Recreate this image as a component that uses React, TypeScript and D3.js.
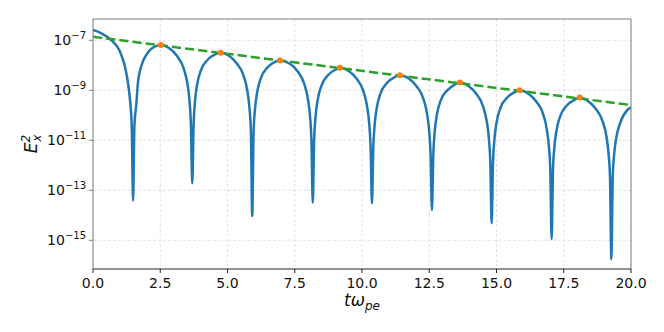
import React, { useRef, useEffect } from "react";
import * as d3 from "d3";

// time samples (t * omega_pe) and E_x^2
const tValues = [
  0, 0.31, 0.68, 0.99, 1.18, 1.3, 1.39, 1.44, 1.49, 1.54, 1.61, 1.67, 1.8, 2.04, 2.29, 2.52,
  2.84, 3.11, 3.37, 3.51, 3.59, 3.64, 3.69, 3.74, 3.79, 3.87, 4.01, 4.27, 4.54, 4.75,
  5.07, 5.34, 5.6, 5.74, 5.82, 5.87, 5.92, 5.97, 6.02, 6.1, 6.24, 6.5, 6.77, 6.95,
  7.32, 7.59, 7.85, 7.99, 8.07, 8.12, 8.17, 8.22, 8.27, 8.35, 8.49, 8.75, 9.02, 9.18,
  9.52, 9.79, 10.05, 10.19, 10.27, 10.32, 10.37, 10.42, 10.47, 10.55, 10.69, 10.95, 11.22, 11.41,
  11.75, 12.02, 12.28, 12.42, 12.5, 12.55, 12.6, 12.65, 12.7, 12.78, 12.92, 13.18, 13.45, 13.64,
  13.97, 14.24, 14.5, 14.64, 14.72, 14.77, 14.82, 14.87, 14.92, 15.0, 15.14, 15.4, 15.67, 15.86,
  16.2, 16.47, 16.73, 16.87, 16.95, 17.0, 17.05, 17.1, 17.15, 17.23, 17.37, 17.63, 17.9, 18.09,
  18.42, 18.69, 18.95, 19.09, 19.17, 19.22, 19.27, 19.32, 19.37, 19.45, 19.59, 19.85, 20.0,
];
const ex2Values = [
  2.57e-7, 1.91e-7, 1.02e-7, 3.8e-8, 9.55e-9, 2.0e-9, 2.75e-10, 3.98e-11, 3.8e-14, 3.98e-11, 2.75e-10, 2.0e-9, 9.55e-9, 3.24e-8, 5.62e-8, 6.46e-8,
  4.79e-8, 2.45e-8, 7.59e-9, 1.82e-9, 3.55e-10, 4.47e-11, 1.91e-13, 4.27e-11, 3.39e-10, 1.66e-9, 6.31e-9, 1.7e-8, 2.75e-8, 3.16e-8,
  2.34e-8, 1.2e-8, 3.8e-9, 9.12e-10, 1.78e-10, 2.19e-11, 9.33e-15, 2.14e-11, 1.66e-10, 8.13e-10, 3.09e-9, 8.51e-9, 1.38e-8, 1.55e-8,
  1.15e-8, 6.03e-9, 1.86e-9, 4.47e-10, 8.71e-11, 1.07e-11, 3.16e-14, 1.05e-11, 8.13e-11, 3.98e-10, 1.51e-9, 4.17e-9, 6.76e-9, 7.94e-9,
  5.75e-9, 3.02e-9, 9.33e-10, 2.24e-10, 4.37e-11, 5.37e-12, 3.02e-14, 5.25e-12, 4.07e-11, 2.0e-10, 7.59e-10, 2.09e-9, 3.39e-9, 3.98e-9,
  2.88e-9, 1.48e-9, 4.68e-10, 1.12e-10, 2.19e-11, 2.69e-12, 1.62e-14, 2.63e-12, 2.04e-11, 1.0e-10, 3.8e-10, 1.02e-9, 1.7e-9, 2.04e-9,
  1.45e-9, 7.41e-10, 2.29e-10, 5.5e-11, 1.07e-11, 1.35e-12, 4.79e-15, 1.29e-12, 1.02e-11, 4.9e-11, 1.91e-10, 5.13e-10, 8.32e-10, 1.0e-9,
  7.08e-10, 3.63e-10, 1.15e-10, 2.75e-11, 5.37e-12, 6.61e-13, 1.12e-15, 6.46e-13, 5.01e-12, 2.45e-11, 9.33e-11, 2.57e-10, 4.17e-10, 5.13e-10,
  3.55e-10, 1.82e-10, 5.62e-11, 1.38e-11, 2.63e-12, 3.31e-13, 1.78e-16, 3.16e-13, 2.51e-12, 1.23e-11, 4.68e-11, 1.58e-10, 2.09e-10,
];

// local maxima (orange markers)
const peakT = [2.52, 4.75, 6.95, 9.18, 11.41, 13.64, 15.86, 18.09];
const peakE = [6.46e-8, 3.16e-8, 1.55e-8, 7.94e-9, 3.98e-9, 2.04e-9, 1.0e-9, 5.13e-10];

// exponential fit (green dashed)
const fitT = [0, 20];
const fitE = [1.39e-7, 2.58e-10];

const xTicks = [0, 2.5, 5, 7.5, 10, 12.5, 15, 17.5, 20];
const yTicks = [1e-7, 1e-9, 1e-11, 1e-13, 1e-15];
const yTickExp = ["\u22127", "\u22129", "\u221211", "\u221213", "\u221215"];

const W = 664;
const H = 332;
const left = 93;
const top = 19;
const right = 631;
const bottom = 269;

const App = () => {
  const ref = useRef<SVGSVGElement>(null);

  useEffect(() => {
    const svg = d3.select(ref.current);
    svg.selectAll("*").remove();

    const x = d3.scaleLinear().domain([0, 20]).range([left, right]);
    const y = d3.scaleLog().domain([7.11e-17, 7.11e-7]).range([bottom, top]);

    const font = "DejaVu Sans, sans-serif";

    svg.append("rect").attr("width", W).attr("height", H).attr("fill", "white");

    // grid
    const grid = svg.append("g").attr("stroke", "#dcdcdc").attr("stroke-width", 0.8).attr("stroke-dasharray", "3,2");
    xTicks.forEach((t) => {
      grid.append("line").attr("x1", x(t)).attr("x2", x(t)).attr("y1", top).attr("y2", bottom);
    });
    yTicks.forEach((v) => {
      grid.append("line").attr("x1", left).attr("x2", right).attr("y1", y(v)).attr("y2", y(v));
    });

    const clip = svg.append("clipPath").attr("id", "plotclip");
    clip.append("rect").attr("x", left).attr("y", top).attr("width", right - left).attr("height", bottom - top);

    const plot = svg.append("g").attr("clip-path", "url(#plotclip)");

    const line = d3
      .line<number>()
      .x((d) => x(tValues[d]))
      .y((d) => y(ex2Values[d]))
      .curve(d3.curveMonotoneX);

    plot
      .append("path")
      .attr("d", line(d3.range(tValues.length)))
      .attr("fill", "none")
      .attr("stroke", "#1f77b4")
      .attr("stroke-width", 2.5)
      .attr("stroke-linejoin", "round");

    const fitLine = d3
      .line<number>()
      .x((d) => x(fitT[d]))
      .y((d) => y(fitE[d]));

    plot
      .append("path")
      .attr("d", fitLine(d3.range(fitT.length)))
      .attr("fill", "none")
      .attr("stroke", "#2ca02c")
      .attr("stroke-width", 2.5)
      .attr("stroke-dasharray", "9.25,4");

    plot
      .selectAll("circle")
      .data(d3.range(peakT.length))
      .enter()
      .append("circle")
      .attr("cx", (d) => x(peakT[d]))
      .attr("cy", (d) => y(peakE[d]))
      .attr("r", 3)
      .attr("fill", "#ff7f0e");

    // spines
    svg.append("line").attr("x1", left).attr("x2", right).attr("y1", top).attr("y2", top).attr("stroke", "#808080");
    svg.append("line").attr("x1", left).attr("x2", left).attr("y1", top).attr("y2", bottom).attr("stroke", "#808080");
    svg.append("line").attr("x1", right).attr("x2", right).attr("y1", top).attr("y2", bottom).attr("stroke", "#808080");
    svg.append("line").attr("x1", left).attr("x2", right).attr("y1", bottom).attr("y2", bottom).attr("stroke", "#222");

    // x ticks
    xTicks.forEach((t) => {
      svg.append("line").attr("x1", x(t)).attr("x2", x(t)).attr("y1", bottom).attr("y2", bottom + 4).attr("stroke", "#222");
      svg
        .append("text")
        .attr("x", x(t))
        .attr("y", bottom + 19)
        .attr("text-anchor", "middle")
        .attr("font-family", font)
        .attr("font-size", 14)
        .attr("fill", "#111")
        .text(t.toFixed(1));
    });

    // y ticks
    yTicks.forEach((v, i) => {
      svg.append("line").attr("x1", left - 4).attr("x2", left).attr("y1", y(v)).attr("y2", y(v)).attr("stroke", "#808080");
      const txt = svg
        .append("text")
        .attr("x", left - 7)
        .attr("y", y(v) + 5)
        .attr("text-anchor", "end")
        .attr("font-family", font)
        .attr("font-size", 14)
        .attr("fill", "#111");
      txt.append("tspan").text("10");
      txt.append("tspan").attr("font-size", 10).attr("dy", -6).text(yTickExp[i]);
    });

    // axis labels
    const xl = svg
      .append("text")
      .attr("x", (left + right) / 2)
      .attr("y", 306)
      .attr("text-anchor", "middle")
      .attr("font-family", font)
      .attr("font-size", 17)
      .attr("font-style", "italic")
      .attr("fill", "#111");
    xl.append("tspan").text("t\u03c9");
    xl.append("tspan").attr("font-size", 12).attr("dy", 4).text("pe");

    const yl = svg
      .append("text")
      .attr("transform", `translate(37, ${(top + bottom) / 2}) rotate(-90)`)
      .attr("text-anchor", "middle")
      .attr("font-family", font)
      .attr("font-size", 17)
      .attr("font-style", "italic")
      .attr("fill", "#111");
    yl.append("tspan").text("E");
    yl.append("tspan").attr("font-size", 12).attr("dy", -7).text("2");
    yl.append("tspan").attr("font-size", 12).attr("dx", -7).attr("dy", 11).text("x");
  }, []);

  return <svg ref={ref} width={W} height={H} style={{ position: "absolute", left: 0, top: 0 }}></svg>;
};

export default App;
